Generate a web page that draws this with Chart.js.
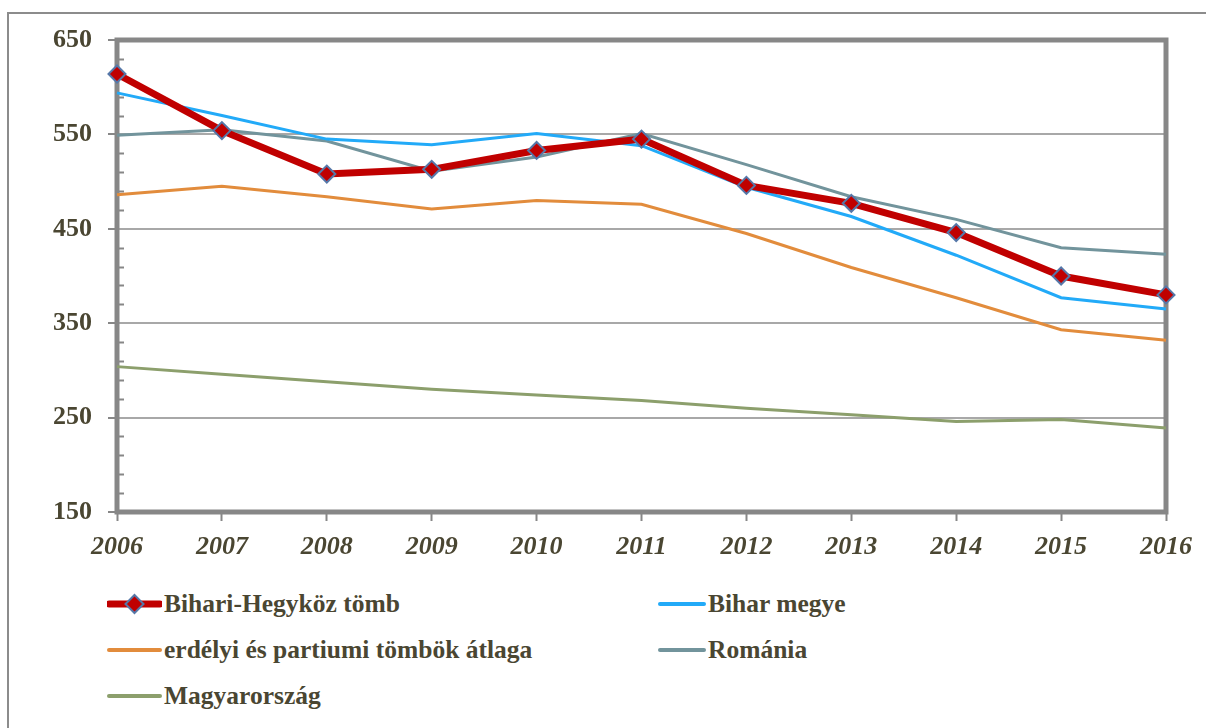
<!DOCTYPE html>
<html>
<head>
<meta charset="utf-8">
<script src="https://cdn.jsdelivr.net/npm/chart.js@4.4.1/dist/chart.umd.min.js"></script>
<style>
  html, body { margin: 0; padding: 0; background: #fff; overflow: hidden; }
  #wrap { position: relative; width: 1206px; height: 728px; }
  #frame { position: absolute; left: 7px; top: 12px; width: 1300px; height: 800px;
           border: 2px solid #8c8c8c; }
  #chartBox { position: absolute; left: 0; top: 0; width: 1206px; height: 560px; }
  .leg { position: absolute; display: flex; align-items: center; height: 30px;
         font-family: 'Liberation Serif', 'Tinos', serif; font-weight: bold;
         font-size: 25.5px; color: #4a4632; white-space: nowrap; }
  .leg svg { margin-right: 2px; }
</style>
</head>
<body>
<div id="wrap">
  <div id="frame"></div>
  <div id="chartBox"><canvas id="lineChart"></canvas></div>
  <div id="legend"></div>
</div>
<script>
// ---- data ----
const years = ['2006', '2007', '2008', '2009', '2010', '2011', '2012', '2013', '2014', '2015', '2016'];
const bihariHegykoz = [614, 554, 508, 513, 533, 545, 496, 477, 446, 400, 380];
const biharMegye    = [594, 570, 545, 539, 551, 538, 494, 463, 422, 377, 365];
const erdelyiAtlag  = [486, 495, 484, 471, 480, 476, 445, 409, 377, 343, 332];
const romania       = [549, 555, 543, 511, 526, 551, 518, 484, 460, 430, 423];
const magyarorszag  = [304, 296, 288, 280, 274, 268, 260, 253, 246, 248, 239];
const yMajorTicks = [150, 250, 350, 450, 550, 650];

const seriesNames = ['Bihari-Hegyköz tömb', 'Bihar megye', 'erdélyi és partiumi tömbök átlaga', 'Románia', 'Magyarország'];
const seriesColors = ['#c00000', '#22aaf8', '#e28c3c', '#72949c', '#8c9f6c'];

const textColor = '#4a4632';
const axisGray = '#878787';
const gridGray = '#a8a8a8';
const serifFont = "'Liberation Serif', 'Tinos', serif";

function isMajor(v) {
    return yMajorTicks.indexOf(v) !== -1;
}

// frame around the plot + minor inner ticks on the value axis
const plotFrame = {
    id: 'plotFrame',
    beforeDatasetsDraw(chart) {
        const a = chart.chartArea;
        const ctx = chart.ctx;
        const y = chart.scales.y;
        ctx.save();
        ctx.strokeStyle = axisGray;
        ctx.lineWidth = 2;
        for (let v = 170; v < 650; v += 20) {
            if (isMajor(v)) continue;
            const py = Math.round(y.getPixelForValue(v)) + 0.5;
            ctx.beginPath();
            ctx.moveTo(a.left, py);
            ctx.lineTo(a.left + 7, py);
            ctx.stroke();
        }
        ctx.lineWidth = 5;
        ctx.strokeRect(a.left, a.top, a.right - a.left, a.bottom - a.top);
        ctx.restore();
    }
};

function makeDataset(i, values) {
    const main = i === 0;
    return {
        label: seriesNames[i],
        data: values,
        borderColor: seriesColors[i],
        backgroundColor: seriesColors[i],
        borderWidth: main ? 7 : 3,
        pointRadius: main ? 8.5 : 0,
        pointHoverRadius: main ? 8.5 : 0,
        pointStyle: main ? 'rectRot' : 'circle',
        pointBackgroundColor: '#c00000',
        pointBorderColor: '#5577a8',
        pointBorderWidth: 2,
        tension: 0,
        clip: false,
        order: main ? 0 : i
    };
}

const ctx = document.getElementById('lineChart').getContext('2d');
new Chart(ctx, {
    type: 'line',
    data: {
        labels: years,
        datasets: [
            makeDataset(0, bihariHegykoz),
            makeDataset(1, biharMegye),
            makeDataset(2, erdelyiAtlag),
            makeDataset(3, romania),
            makeDataset(4, magyarorszag)
        ]
    },
    options: {
        responsive: true,
        maintainAspectRatio: false,
        animation: false,
        layout: { padding: { left: 17, top: 40, right: 40, bottom: 0 } },
        plugins: {
            legend: { display: false },
            tooltip: { enabled: false }
        },
        scales: {
            x: {
                offset: false,
                border: { display: false },
                grid: {
                    drawOnChartArea: false,
                    drawTicks: true,
                    tickLength: 9,
                    tickWidth: 2,
                    tickColor: axisGray
                },
                ticks: {
                    color: textColor,
                    padding: 11,
                    maxRotation: 0,
                    font: { family: serifFont, size: 26, weight: 'bold', style: 'italic' }
                },
                afterFit(scale) { scale.height = 48; }
            },
            y: {
                min: 150,
                max: 650,
                border: { display: false },
                afterBuildTicks(scale) {
                    const t = [];
                    for (let v = 150; v <= 650; v += 20) t.push({ value: v });
                    scale.ticks = t;
                },
                grid: {
                    drawTicks: true,
                    tickLength: 9,
                    color: c => (c.tick && isMajor(c.tick.value)) ? gridGray : 'rgba(0,0,0,0)',
                    lineWidth: 2,
                    tickColor: c => (c.tick && isMajor(c.tick.value)) ? axisGray : 'rgba(0,0,0,0)',
                    tickWidth: 2
                },
                ticks: {
                    autoSkip: false,
                    color: textColor,
                    padding: 16,
                    font: { family: serifFont, size: 26, weight: 'bold' },
                    callback: v => isMajor(v) ? String(v) : ''
                },
                afterFit(scale) { scale.width = 100; }
            }
        }
    },
    plugins: [plotFrame]
});

// ---- legend (two columns, like the original) ----
const legendPos = [
    { left: 107, top: 589 },
    { left: 658, top: 589 },
    { left: 107, top: 635 },
    { left: 658, top: 635 },
    { left: 107, top: 681 }
];
const legendEl = document.getElementById('legend');
seriesNames.forEach((name, i) => {
    const item = document.createElement('div');
    item.className = 'leg';
    item.style.left = legendPos[i].left + 'px';
    item.style.top = legendPos[i].top + 'px';
    const w = i % 2 === 1 ? 48 : 55;
    let svg = '<svg width="' + w + '" height="30">' +
        '<line x1="2" y1="15" x2="' + (w - 2) + '" y2="15" stroke="' + seriesColors[i] +
        '" stroke-width="' + (i === 0 ? 7 : 4) + '" stroke-linecap="round"/>';
    if (i === 0) {
        const cx = w / 2;
        svg += '<polygon points="' + cx + ',6 ' + (cx + 9) + ',15 ' + cx + ',24 ' + (cx - 9) + ',15" fill="#c00000" stroke="#5577a8" stroke-width="2"/>';
    }
    svg += '</svg>';
    item.innerHTML = svg + '<span>' + name + '</span>';
    legendEl.appendChild(item);
});
</script>
</body>
</html>
